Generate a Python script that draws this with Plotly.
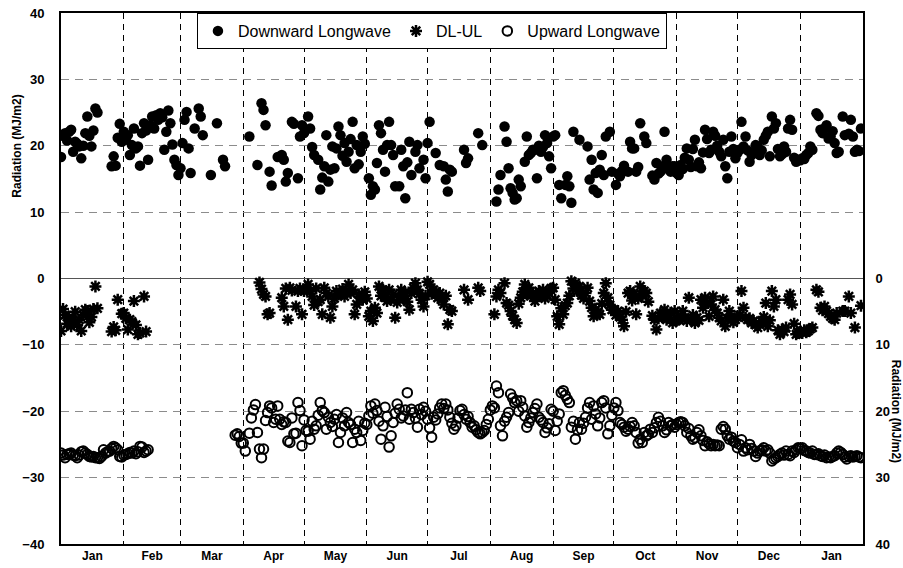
import pandas as pd
import plotly.graph_objects as go

N = None
month_days = [31, 28, 31, 30, 31, 30, 31, 31, 30, 31, 30, 31, 31]
dates = pd.date_range("2005-01-01", "2006-01-31", freq="D")

# Downward Longwave (MJ/m2), one list per month
dl_months = [
    [18.3, 21.5, 21.9, 20.8, 22.1, 22.4, 19.1, 20.6, 20.3, 19.9, 18.1, 20.0, 21.9, 24.4, 21.5, 19.9, 22.3, 25.6, 25.0, N, N, N, N, N, N, 16.9, 18.4, 17.0, 21.2, 23.3, 20.6],
    [22.1, 20.9, 21.6, 18.6, 20.1, 22.6, 19.6, 19.9, 17.0, 21.9, 23.4, 22.3, 17.9, 23.1, 24.4, 22.6, 24.6, 23.9, 24.9, 24.3, 19.4, 22.1, 25.3, 23.4, 20.2, 17.9, 17.1, 15.6],
    [16.6, 20.4, 23.9, 25.1, 19.6, 15.9, N, 22.6, N, 25.6, 24.4, 21.6, N, N, N, 15.6, N, N, 23.4, N, N, 17.9, 16.9],
    [N, N, N, 21.4, N, N, N, 17.1, N, 26.4, 25.4, 23.1, N, 16.1, 14.0, N, N, 18.3, N, 18.6, 17.9, 14.6, 15.9, N, 23.6, 23.3, N, 15.1, 21.4, 23.1],
    [21.9, N, 24.4, 22.6, 19.8, 18.6, N, 17.9, 13.4, 15.2, 16.9, 21.6, 14.6, 16.4, 19.9, 16.6, 19.6, 22.9, 21.6, 18.5, 20.4, 17.6, 19.1, 21.0, 23.6, 16.6, 20.1, 17.2, 19.1, 21.4, 20.3],
    [N, 15.1, 12.6, 13.9, 13.4, 17.4, 23.1, 21.9, 19.4, 16.1, 20.1, 23.6, 20.1, 18.6, 13.9, N, 13.9, 19.4, 16.9, 12.1, 17.5, 20.6, 15.6, N, 19.1, 20.1, 16.6, N, 17.9, 15.1],
    [20.4, 23.6, N, N, 18.9, N, 17.1, N, 16.9, 14.9, 13.1, 16.4, 16.1, N, N, N, N, N, 19.4, 17.4, 18.1, N, N, N, N, 21.9, N, 20.1],
    [N, N, N, 11.6, 13.4, 15.6, N, 22.9, 20.6, 16.6, 13.6, 12.9, 11.9, 12.1, 14.9, 13.9, N, 17.6, 21.4, 18.6, 18.9, 19.4, 19.4, 15.1, 20.0, 19.1, 19.8, 21.6, 20.4, 18.4, 16.6],
    [21.4, 21.6, N, 14.1, 12.1, N, 14.1, 15.4, 13.9, 11.4, 22.1, N, N, 20.9, N, N, N, 19.9, 14.9, 17.9, 13.4, 15.9, 12.9, 16.4, 18.6, 15.6, 21.4, N, 22.1, 16.1],
    [N, 14.1, 15.8, 15.4, 16.2, 17.0, N, 16.1, 20.6, 19.6, 19.6, 16.1, 16.8, 23.4, N, 21.4, 20.4, N, N, 15.5, 14.9, 17.4, 15.8, 16.1, 16.9, 22.1, 17.9, 16.5, 16.1, 16.9, 16.9],
    [15.9, 15.6, 17.1, 16.5, 18.2, 19.6, 17.9, 16.8, 19.5, 20.9, 16.9, 17.5, 16.6, 19.0, 22.4, 21.0, 18.9, 19.4, 22.1, 21.5, 20.0, 19.1, 18.4, 20.9, 16.9, 15.1, 19.1, 21.4, 19.5, 18.1],
    [18.9, 19.4, 23.6, 19.9, 21.4, 19.3, 17.6, 18.6, 19.0, 20.1, 19.8, 18.6, 19.3, 20.9, 21.5, 22.1, 18.4, 24.4, 22.6, 23.4, 19.5, 18.4, 18.7, 19.9, 19.1, 22.6, 23.9, 22.4, 18.2, 17.6, 17.9],
    [17.8, 18.1, 18.0, 18.6, 18.9, 19.9, 19.4, N, 24.9, 24.5, 22.4, 21.9, 22.6, 23.1, 21.1, 21.4, 22.2, 20.4, 18.9, 19.1, N, 24.4, 21.6, N, 21.8, 23.9, 21.4, 19.1, 19.4, 19.2, 22.6],
]

# DL-UL (MJ/m2)
dlul_months = [
    [-7.9, -4.6, -5.5, -6.8, -5.9, -7.2, -6.3, -5.0, -7.0, -6.2, -7.9, -5.5, -4.7, -4.9, -6.6, -5.8, -4.6, -1.2, -4.5, N, N, N, N, N, N, -8.0, -7.3, -7.8, -3.2, N, -5.3],
    [-5.2, -6.0, -7.7, -6.2, -6.5, -3.4, -7.0, -8.4, -8.2, N, -2.7, -8.0],
    [],
    [N, N, N, N, N, N, N, N, -0.6, -1.6, -2.4, -2.7, -5.4, -5.2, N, N, N, N, N, -2.9, -4.2, -1.5, -6.2, -1.4, -1.8, N, -4.2, -1.9, -1.5, -5.4],
    [-1.9, N, -0.9, -1.9, -2.7, -4.0, -1.5, -3.5, -3.2, -5.4, -1.4, -2.2, -2.7, -5.9, -4.2, -3.0, -1.9, -2.4, -2.2, -1.6, -2.7, -1.9, -0.9, -2.2, -1.7, -5.4, -3.9, -2.4, -2.9, -3.2, -2.0],
    [-3.0, -5.7, -4.9, -6.4, -4.4, -5.2, -1.2, -2.6, -1.7, -2.8, -3.4, -1.7, -3.2, -2.4, -5.9, -3.6, -2.8, -1.7, -3.0, -2.2, -3.5, -4.7, -2.2, -1.4, -0.7, -1.7, -2.3, -3.2, -4.2, -2.6],
    [-0.5, -0.9, -2.3, -1.7, -2.0, -2.9, -2.2, -3.2, -3.9, -2.6, -6.9, -4.7, -4.9, N, N, N, N, N, -1.7, N, -3.2, N, N, N, N, -1.4, -1.9],
    [N, N, -5.4, -2.7, -1.7, -2.2, N, -0.7, -3.7, -4.0, -4.9, -5.6, -6.2, -6.7, -3.8, -2.9, -2.0, -0.9, -2.4, -1.4, -2.6, -2.2, -3.4, -2.8, -1.9, -2.4, -1.7, -3.0, -2.5, -2.2, -1.5],
    [-1.4, -3.2, -5.7, -6.9, -4.5, -5.4, -4.1, -3.7, -2.6, -0.4, -1.5, -0.7, -1.9, -1.2, -2.5, -3.0, -2.2, -1.4, -3.4, -4.4, -5.7, -4.7, -5.2, -5.4, -3.8, -2.2, -0.7, -2.9, -4.0, -4.7],
    [-4.7, -5.5, -4.9, -5.8, -6.2, -7.2, -5.0, -2.2, -1.9, -3.3, -2.4, -5.4, -3.0, -1.2, -2.5, -1.9, -2.2, -3.5, N, -5.6, -6.2, -7.7, -6.0, -5.2, -5.8, -4.7, -6.2, -5.5, -5.2, -6.7, -4.9],
    [-6.3, -6.2, -5.6, -4.9, -5.9, -6.4, -2.9, -6.2, -5.5, -6.7, -5.9, -6.3, -3.2, -4.4, -2.9, -3.7, -5.7, -3.9, -2.7, -4.7, -5.2, -5.9, -6.4, -3.2, -7.2, -6.0, -4.9, -5.9, -6.6, -6.2],
    [-5.8, -5.5, -1.9, -4.4, -5.9, -6.2, -6.0, -6.7, -6.4, -7.0, -7.4, -6.9, -6.5, -5.8, -3.7, -7.2, -6.3, -1.9, -4.2, -3.2, -7.8, -8.4, -7.7, -8.0, -7.4, -3.2, -2.4, -3.9, -6.8, -8.4, -8.2],
    [-8.0, -8.2, -7.8, -8.1, -7.9, -7.6, -7.4, N, -1.7, -2.0, -4.4, -4.8, -4.2, -4.9, -5.3, -5.7, -6.0, -6.2, -5.2, N, N, -4.9, -4.9, N, -2.7, -5.2, N, -7.4, N, N, -4.1],
]

# Upward Longwave (plotted as negative MJ/m2)
ul_months = [
    [-26.3, -26.6, -27.0, -26.5, -26.4, -26.3, -26.6, -26.7, -27.0, -26.6, -26.1, -26.0, -26.3, -26.5, -26.8, -26.9, -26.8, -27.0, -27.0, -27.1, -26.8, -25.8, -26.3, -26.1, -26.0, -25.6, -25.3, -25.5, -25.8, -26.8, -26.9],
    [-26.6, -26.5, -26.4, -26.2, -26.3, -26.0, -26.4, -26.1, -25.3, -25.4, -26.2, -26.0, -25.8],
    [N, N, N, N, N, N, N, N, N, N, N, N, N, N, N, N, N, N, N, N, N, N, N, N, N, N, N, -23.6, -23.4, -23.8, -24.8],
    [-24.8, -26.0, N, -23.3, -21.0, -19.8, -19.0, -23.2, -25.7, -27.0, -25.7, -21.4, -20.2, -19.2, -19.5, -21.7, -21.2, -19.2, -21.2, -22.0, -21.6, -21.7, -24.5, -24.7, -21.0, -23.4, -23.3, -18.7, -19.9, -25.2],
    [-21.3, -22.9, -23.0, -24.2, -21.5, -22.7, -22.2, -20.6, -18.7, -19.9, -20.2, -22.7, -20.9, -21.7, -22.3, -21.2, -20.5, -24.7, -23.2, -21.0, -22.2, -20.2, -21.7, -22.0, -24.7, -22.7, -23.2, -21.5, -24.4, -22.9, -21.8],
    [-22.0, -20.7, -19.2, -20.3, -18.9, -19.9, -21.5, -24.2, -22.2, -19.4, -20.8, -25.4, -23.7, -21.7, -20.3, -18.9, -19.7, -21.0, -20.7, -19.8, -17.2, -21.2, -19.7, -20.2, -21.0, -22.4, -19.7, -20.5, -19.4, -20.0],
    [-21.2, -22.5, -23.9, -20.9, -21.3, -20.4, -19.5, -18.9, -19.6, -18.9, -19.8, -20.9, -21.8, -22.7, -22.2, -21.0, -19.9, -19.7, -20.5, -21.2, -20.8, -21.7, -22.4, -22.2, -22.8, -23.2, -23.4, -23.2, -22.9, -22.0, -21.2],
    [-19.8, -19.2, -19.5, -16.2, -17.2, -22.2, -23.7, -21.5, -20.9, -20.2, -17.4, -18.0, -18.7, -18.4, -20.0, -18.4, -19.4, -20.7, -22.4, -21.7, -21.0, -20.2, -19.6, -18.9, -20.9, -21.3, -21.7, -23.2, -22.5, -21.9, -19.7],
    [-20.0, -22.9, -21.5, -20.4, -17.2, -16.9, -17.6, -18.2, -18.7, -22.4, -21.5, -24.2, -22.8, -21.7, -22.7, -21.8, -20.9, -19.5, -18.7, -21.2, -19.2, -20.4, -22.2, -21.0, -18.7, -18.4, -19.5, -23.4, -22.2, -20.6],
    [-19.5, -18.7, -19.9, -21.7, -22.0, -22.4, -23.0, -22.7, -22.3, -21.7, -22.2, -23.2, -24.8, -24.2, -24.7, -23.2, -23.7, -23.5, -22.7, -23.2, -22.5, -21.7, -20.9, -21.5, -22.2, -23.2, -22.8, -21.7, -22.2, -22.0, -22.4],
    [-22.0, -21.7, -21.6, -21.7, -22.2, -23.2, -22.6, -23.7, -24.2, -24.0, -23.2, -22.8, -23.7, -24.4, -25.2, -24.6, -24.9, -25.2, -25.0, -25.2, -25.1, -25.2, -22.7, -22.3, -22.7, -23.7, -24.2, -23.9, -24.5, -24.7],
    [-25.5, -25.0, -24.3, -26.0, -25.5, -25.8, -25.0, -25.6, -26.0, -26.8, -26.3, -26.0, -25.8, -25.5, -26.0, -25.8, -26.3, -27.5, -27.2, -27.0, -26.8, -26.5, -26.3, -26.6, -26.0, -26.5, -26.7, -26.0, -26.2, -25.8, -25.5],
    [-25.6, -25.5, -25.9, -26.0, -26.2, -26.3, -26.0, -26.5, -26.5, -26.4, -26.7, -26.8, -26.6, -27.0, -26.9, -27.0, -26.8, -26.7, -26.3, -26.0, -26.2, -26.5, -26.9, -27.2, -26.8, -26.7, -26.9, -26.8, -26.7, -26.9, -27.0],
]

month_labels = ["Jan", "Feb", "Mar", "Apr", "May", "Jun", "Jul", "Aug", "Sep", "Oct", "Nov", "Dec", "Jan"]
left_ticks = [-40, -30, -20, -10, 0, 10, 20, 30, 40]
right_ticks = [0, 10, 20, 30, 40]


def join(months):
    out = []
    for vals, n in zip(months, month_days):
        out.extend((list(vals) + [None] * n)[:n])
    return out


dl = join(dl_months)
dlul = join(dlul_months)
ul = join(ul_months)

FONT = "Liberation Sans, Arial, sans-serif"
tickfont = dict(family=FONT, size=13, color="black", weight="bold")

fig = go.Figure()
fig.add_trace(go.Scatter(
    x=dates, y=dl, mode="markers", name="Downward Longwave",
    marker=dict(symbol="circle", size=10.5, color="black", line=dict(width=0)),
))
fig.add_trace(go.Scatter(
    x=dates, y=dlul, mode="markers", name="DL-UL",
    marker=dict(symbol="asterisk-open", size=10, color="black", line=dict(width=2.5, color="black")),
))
fig.add_trace(go.Scatter(
    x=dates, y=ul, mode="markers", name="Upward Longwave",
    marker=dict(symbol="circle-open", size=9.5, color="black", line=dict(width=2, color="black")),
))
# invisible trace to activate right axis
fig.add_trace(go.Scatter(x=[dates[0]], y=[0], yaxis="y2", mode="markers",
                         marker=dict(opacity=0), showlegend=False, hoverinfo="skip"))

fig.update_layout(
    width=903, height=568,
    margin=dict(l=61, r=40, t=13, b=24, autoexpand=False),
    paper_bgcolor="white", plot_bgcolor="white",
    showlegend=True,
    legend=dict(
        orientation="h", x=0.4625, xanchor="center", y=1.0, yanchor="top",
        bordercolor="black", borderwidth=1, bgcolor="white",
        font=dict(family=FONT, size=16, color="black"),
        itemwidth=30, tracegroupgap=0,
    ),
    xaxis=dict(
        type="date",
        range=["2005-01-01", "2006-02-01"],
        tick0="2005-01-01", dtick="M1",
        ticklabelmode="period", tickformat="%b",
        showgrid=True, gridcolor="black", gridwidth=1, griddash="6px,5px",
        showline=True, linecolor="black", linewidth=2, mirror=True,
        ticks="", tickfont=dict(family=FONT, size=12, color="black", weight="bold"),
        zeroline=False, automargin=False,
    ),
    yaxis=dict(
        range=[-40, 40], tickvals=left_ticks,
        showgrid=True, gridcolor="#8c8c8c", gridwidth=1, griddash="8px,6px",
        zeroline=True, zerolinecolor="#555555", zerolinewidth=1,
        showline=True, linecolor="black", linewidth=2, mirror=True,
        ticks="", ticklabelstandoff=12, tickfont=tickfont, automargin=False,
    ),
    yaxis2=dict(
        overlaying="y", side="right", range=[40, -40], tickvals=right_ticks,
        showgrid=False, zeroline=False, showline=True, linecolor="black", linewidth=2,
        ticks="", ticklabelstandoff=8, tickfont=tickfont, automargin=False,
    ),
    annotations=[
        dict(text="Radiation (MJ/m2)", xref="paper", x=-0.055, yref="y", y=20,
             textangle=-90, showarrow=False, xanchor="center", yanchor="middle",
             font=dict(family=FONT, size=12, color="black", weight="bold")),
        dict(text="Radiation (MJ/m2)", xref="paper", x=1.0405, yref="y", y=-20,
             textangle=90, showarrow=False, xanchor="center", yanchor="middle",
             font=dict(family=FONT, size=12, color="black", weight="bold")),
    ],
)

fig.write_html("out.html")
